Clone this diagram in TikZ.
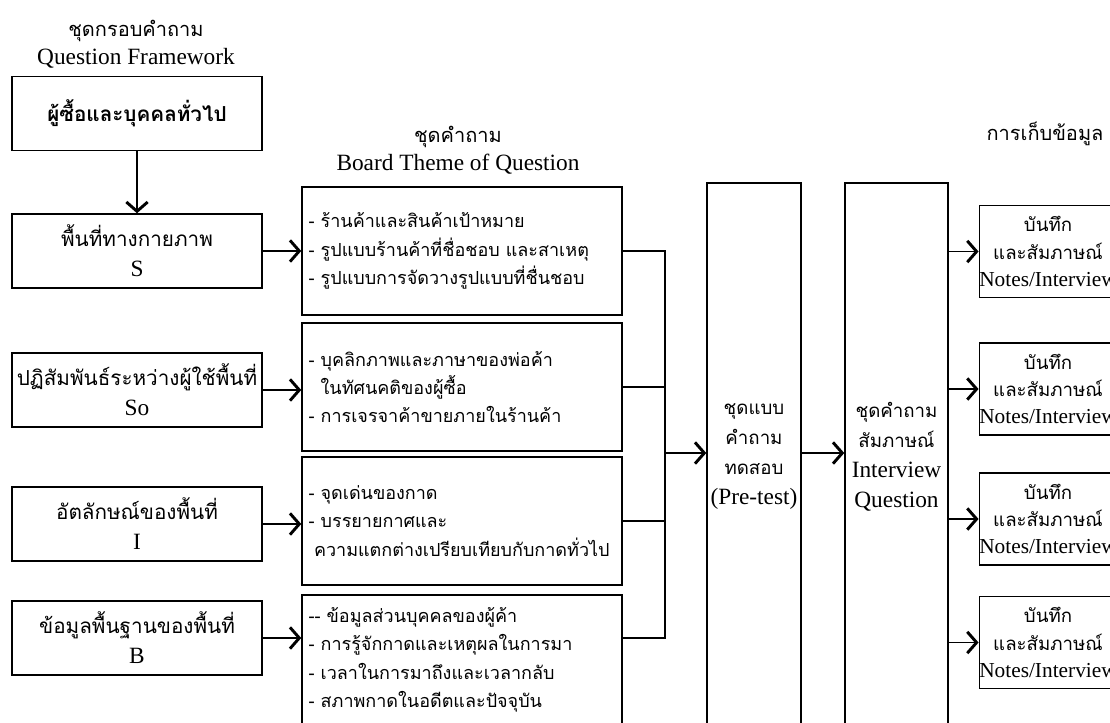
\documentclass[tikz,border=0pt]{standalone}
\usepackage{fontspec}
\setmainfont{Loma}[Script=Thai]
\newfontfamily\lat{Liberation Serif}
\usetikzlibrary{arrows.meta,positioning}
\newcommand\en[2][17.5]{{\lat\fontsize{#1}{21}\selectfont #2}}

\begin{document}
\begin{tikzpicture}[x=0.75pt,y=-0.75pt,
  ttl/.style={font=\fontsize{15}{21}\selectfont,inner sep=0pt,align=center},
  lbox/.style={draw,line width=1.1pt,inner sep=0pt,align=center,minimum width=187.5pt,minimum height=55.5pt,font=\fontsize{15.5}{22.5}\selectfont},
  qbox/.style={draw,line width=1.1pt,inner xsep=5pt,inner ysep=0pt,align=left,text width=230pt,minimum height=96pt,font=\fontsize{13.5}{21.3}\selectfont},
  tall/.style={draw,line width=1.1pt,inner sep=0pt,align=center,minimum height=410pt,font=\fontsize{14}{22.5}\selectfont},
  nbox/.style={draw,line width=1.1pt,inner sep=0pt,align=center,minimum width=102pt,minimum height=69pt,font=\fontsize{14}{20.5}\selectfont},
  ln/.style={line width=1pt},
  arr/.style={line width=1pt,-{Straight Barb[length=7pt,width=16pt,line width=2.2pt]}}]
\useasboundingbox (0,0) rectangle (1110,722);
\clip (0,0) rectangle (1110,722);
% titles
\node[ttl] (t1) at (136,44) {ชุดกรอบคำถาม\\\en{Question Framework}};
\node[ttl] (t2) at (458,150) {ชุดคำถาม\\\en{Board Theme of Question}};
\node[ttl] (t3) at (1045,134) {การเก็บข้อมูล};
% left column
\node[lbox,font=\bfseries\fontsize{15.5}{20}\selectfont] (fw) at (137,113.5) {ผู้ซื้อและบุคคลทั่วไป};
\node[lbox] (s) at (137,251) {พื้นที่ทางกายภาพ\\\en{S}};
\node[lbox] (so) at (137,390) {ปฏิสัมพันธ์ระหว่างผู้ใช้พื้นที่\\\en{So}};
\node[lbox] (i) at (137,524) {อัตลักษณ์ของพื้นที่\\\en{I}};
\node[lbox] (b) at (137,638) {ข้อมูลพื้นฐานของพื้นที่\\\en{B}};
% question sets
\node[qbox] (q1) at (462,251) {- ร้านค้าและสินค้าเป้าหมาย\\- รูปแบบร้านค้าที่ชื่อชอบ และสาเหตุ\\- รูปแบบการจัดวางรูปแบบที่ชื่นชอบ};
\node[qbox] (q2) at (462,387) {- บุคลิกภาพและภาษาของพ่อค้า\\\phantom{- }ในทัศนคติของผู้ซื้อ\\- การเจรจาค้าขายภายในร้านค้า};
\node[qbox] (q3) at (462,521) {- จุดเด่นของกาด\\- บรรยายกาศและ\\\hspace*{4pt}ความแตกต่างเปรียบเทียบกับกาดทั่วไป};
\node[qbox,minimum height=97.5pt] (q4) at (462,660) {-{}- ข้อมูลส่วนบุคคลของผู้ค้า\\- การรู้จักกาดและเหตุผลในการมา\\- เวลาในการมาถึงและเวลากลับ\\- สภาพกาดในอดีตและปัจจุบัน};
% pre-test and interview
\node[tall,minimum width=70.5pt] (pre) at (754,456.5) {ชุดแบบ\\คำถาม\\ทดสอบ\\\en{(Pre-test)}};
\node[tall,minimum width=77.25pt] (itv) at (896.5,456.5) {ชุดคำถาม\\สัมภาษณ์\\\en{Interview}\\\en{Question}};
% data collection
\node[nbox] (n1) at (1048,251.5) {บันทึก\\และสัมภาษณ์\\\en[16]{Notes/Interview}};
\node[nbox] (n2) at (1048,389) {บันทึก\\และสัมภาษณ์\\\en[16]{Notes/Interview}};
\node[nbox] (n3) at (1048,519) {บันทึก\\และสัมภาษณ์\\\en[16]{Notes/Interview}};
\node[nbox] (n4) at (1048,642.5) {บันทึก\\และสัมภาษณ์\\\en[16]{Notes/Interview}};
\coordinate (bus) at (665,453);
% connectors
\draw[arr] (fw.south) -- (s.north);
\draw[arr] (s.east) -- (s.east -| q1.west);
\draw[arr] (so.east) -- (so.east -| q2.west);
\draw[arr] (i.east) -- (i.east -| q3.west);
\draw[arr] (b.east) -- (b.east -| q4.west);
\draw[ln] (q1.east) -| (bus);
\draw[ln] (q4.east |- b.east) -| (bus);
\draw[ln] (q2.east) -- (q2.east -| bus);
\draw[ln] (q3.east) -- (q3.east -| bus);
\draw[arr] (bus) -- (bus -| pre.west);
\draw[arr] (bus -| pre.east) -- (bus -| itv.west);
\draw[arr] (itv.east |- n1.west) -- (n1.west);
\draw[arr] (itv.east |- n2.west) -- (n2.west);
\draw[arr] (itv.east |- n3.west) -- (n3.west);
\draw[arr] (itv.east |- n4.west) -- (n4.west);
\end{tikzpicture}
\end{document}
